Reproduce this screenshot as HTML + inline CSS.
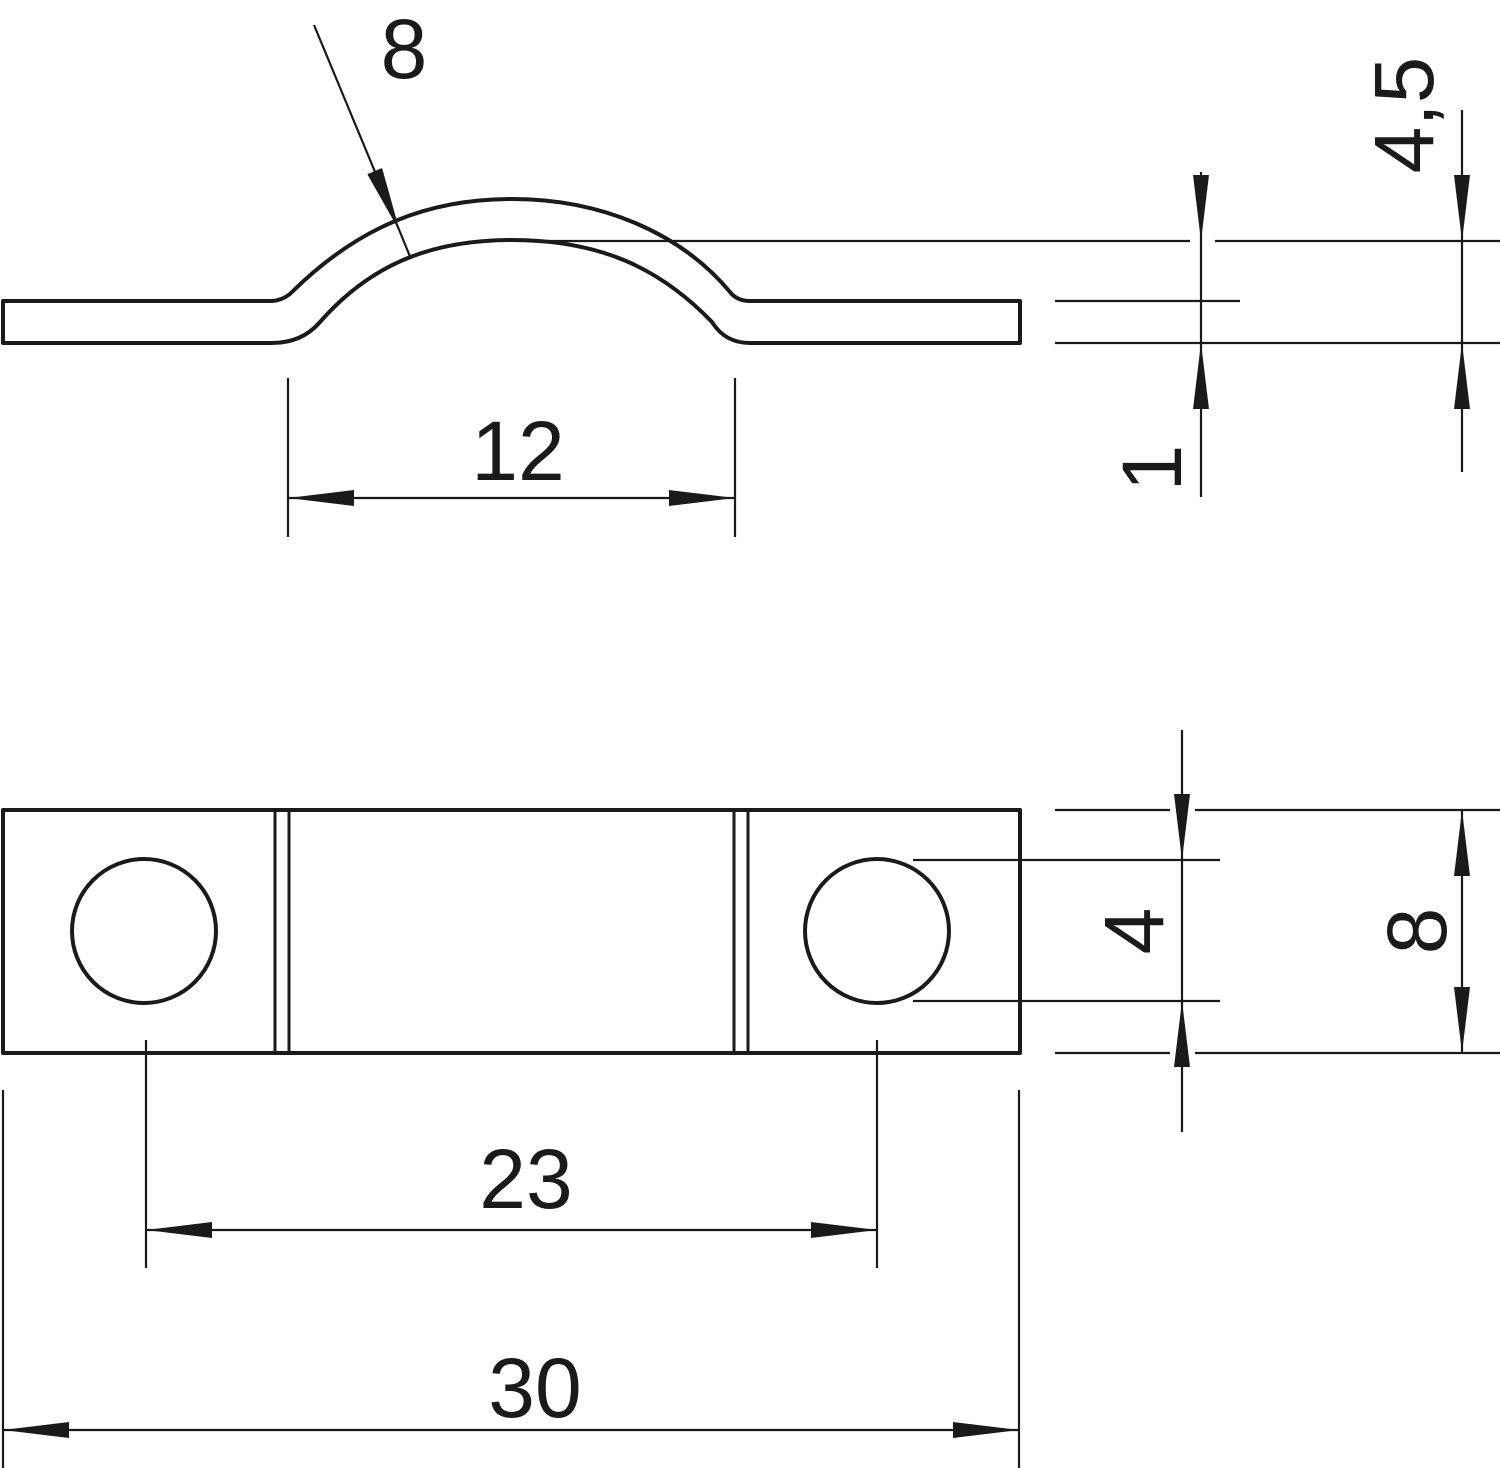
<!DOCTYPE html>
<html><head><style>html,body{margin:0;padding:0;background:#fff}svg{display:block}</style></head><body>
<svg width="1500" height="1468" viewBox="0 0 1500 1468" xmlns="http://www.w3.org/2000/svg" font-family="Liberation Sans, sans-serif" font-size="84" fill="#1a1a1a">
<defs>
<marker id="a" viewBox="0 0 66 16" refX="66" refY="8" markerWidth="66" markerHeight="16" markerUnits="userSpaceOnUse" orient="auto"><path d="M0,0 L66,8 L0,16 Z" fill="#1a1a1a"/></marker>
</defs>
<g fill="none" stroke="#1a1a1a" stroke-width="4" stroke-linejoin="round">
<path d="M3,301 L272,301 Q284,300 292,292 C360,225 430,199 512,199 C600,199 680,232 730,292 Q737,301 750,301 L1020,301 L1020,343 L750,343 Q725,343 712,322 C660,268 600,240 512,240 C430,240 370,265 320,322 Q302,343 272,343 L3,343 Z"/>
<rect x="3" y="810" width="1017" height="243"/>
<circle cx="144" cy="931" r="72"/>
<circle cx="877" cy="931" r="72"/>
</g>
<g stroke="#1a1a1a" stroke-width="3" fill="none">
<line x1="275" y1="810" x2="275" y2="1053"/><line x1="289" y1="810" x2="289" y2="1053"/>
<line x1="734" y1="810" x2="734" y2="1053"/><line x1="748" y1="810" x2="748" y2="1053"/>
</g>
<g stroke="#1a1a1a" stroke-width="2.2" fill="none">
<line x1="314" y1="25" x2="400" y2="232" marker-end="url(#a)"/>
<line x1="400" y1="232" x2="411" y2="259"/>
<line x1="540" y1="241" x2="1190" y2="241"/><line x1="1215" y1="241" x2="1500" y2="241"/>
<line x1="1055" y1="301" x2="1240" y2="301"/>
<line x1="1055" y1="343" x2="1500" y2="343"/>
<line x1="1201" y1="172" x2="1201" y2="241" marker-end="url(#a)"/>
<line x1="1201" y1="497" x2="1201" y2="343" marker-end="url(#a)"/>
<line x1="1201" y1="241" x2="1201" y2="343"/>
<line x1="1462" y1="110" x2="1462" y2="241" marker-end="url(#a)"/>
<line x1="1462" y1="472" x2="1462" y2="343" marker-end="url(#a)"/>
<line x1="1462" y1="241" x2="1462" y2="343"/>
<line x1="288" y1="378" x2="288" y2="537"/><line x1="735" y1="378" x2="735" y2="537"/>
<line x1="512" y1="498" x2="288" y2="498" marker-end="url(#a)"/>
<line x1="512" y1="498" x2="735" y2="498" marker-end="url(#a)"/>
<line x1="1055" y1="810" x2="1170" y2="810"/><line x1="1195" y1="810" x2="1500" y2="810"/>
<line x1="1055" y1="1053" x2="1170" y2="1053"/><line x1="1195" y1="1053" x2="1500" y2="1053"/>
<line x1="913" y1="860" x2="1220" y2="860"/><line x1="913" y1="1001" x2="1220" y2="1001"/>
<line x1="1182" y1="730" x2="1182" y2="860" marker-end="url(#a)"/>
<line x1="1182" y1="1132" x2="1182" y2="1001" marker-end="url(#a)"/>
<line x1="1182" y1="860" x2="1182" y2="1001"/>
<line x1="1462" y1="931" x2="1462" y2="810" marker-end="url(#a)"/>
<line x1="1462" y1="931" x2="1462" y2="1053" marker-end="url(#a)"/>
<line x1="146" y1="1040" x2="146" y2="1268"/><line x1="877" y1="1040" x2="877" y2="1268"/>
<line x1="512" y1="1230" x2="146" y2="1230" marker-end="url(#a)"/>
<line x1="512" y1="1230" x2="877" y2="1230" marker-end="url(#a)"/>
<line x1="3" y1="1090" x2="3" y2="1468"/><line x1="1019" y1="1090" x2="1019" y2="1468"/>
<line x1="512" y1="1430" x2="3" y2="1430" marker-end="url(#a)"/>
<line x1="512" y1="1430" x2="1019" y2="1430" marker-end="url(#a)"/>
</g>
<g text-anchor="middle">
<text x="404" y="78">8</text>
<text x="518" y="480">12</text>
<text x="526" y="1208">23</text>
<text x="535" y="1417">30</text>
<text transform="translate(1181,468) rotate(-90)">1</text>
<text transform="translate(1433,115) rotate(-90)">4,5</text>
<text transform="translate(1163,931) rotate(-90)">4</text>
<text transform="translate(1446,931) rotate(-90)">8</text>
</g>
</svg>
</body></html>
